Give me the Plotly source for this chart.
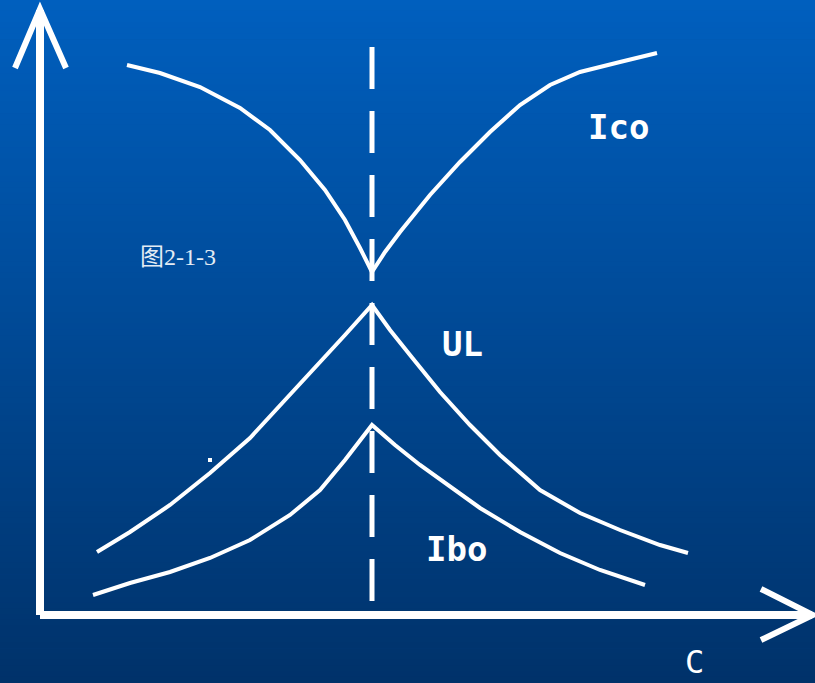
import plotly.graph_objects as go

# ---------------- data (C on x, current / voltage on y; arbitrary units) ----------------
C0 = 332  # resonance capacitance (dashed line)

ico_c = [87, 120, 160, 200, 230, 260, 285, 305, 320, 332, 345, 360, 390, 420, 450, 480, 510, 540, 580, 617]
ico_v = [550, 542, 528, 507, 485, 455, 425, 395, 367, 343, 363, 383, 420, 453, 483, 510, 530, 543, 553, 562]

ul_c = [57, 90, 130, 170, 210, 250, 280, 305, 332, 350, 370, 400, 430, 460, 500, 540, 580, 620, 648]
ul_v = [63, 83, 110, 142, 177, 220, 253, 280, 310, 285, 260, 223, 190, 160, 125, 102, 85, 70, 62]

ibo_c = [53, 90, 130, 170, 210, 250, 280, 305, 332, 355, 380, 410, 440, 480, 520, 560, 605]
ibo_v = [20, 32, 43, 57, 75, 100, 125, 155, 190, 170, 150, 128, 107, 83, 62, 45, 30]

curve_labels = ["Ico", "UL", "Ibo"]
label_c = [578, 422, 416]
label_v = [488, 271, 66]
axis_label = "C"
figure_caption = "图2-1-3"

X_RANGE = [-40, 775]
Y_RANGE = [-68, 615]
Y_TOP = 605
X_END = 772

WHITE = "#ffffff"
fig = go.Figure()

# background vertical gradient built from thin stripes
top = (0, 95, 190)
bot = (0, 50, 106)
n = 120
for i in range(n):
    t = i / (n - 1)
    col = tuple(round(top[k] + (bot[k] - top[k]) * t) for k in range(3))
    fig.add_shape(type="rect", xref="paper", yref="paper",
                  x0=0, x1=1, y0=1 - (i + 1) / n, y1=1 - i / n + 0.001,
                  line_width=0, fillcolor="rgb(%d,%d,%d)" % col, layer="below")

# axes with arrow heads
fig.add_shape(type="line", x0=0, y0=0, x1=0, y1=Y_TOP, line=dict(color=WHITE, width=8))
fig.add_shape(type="line", x0=0, y0=0, x1=X_END, y1=0, line=dict(color=WHITE, width=8))
fig.add_shape(type="path", path="M -25 547 L 0 606 L 26 547", line=dict(color=WHITE, width=6))
fig.add_shape(type="path", path="M 721 26 L 773 0 L 721 -25", line=dict(color=WHITE, width=6))

# dashed resonance line
fig.add_trace(go.Scatter(x=[C0, C0], y=[568, 0], mode="lines",
                         line=dict(color=WHITE, width=5, dash="42px,22px"),
                         hoverinfo="skip", showlegend=False))

for xs, ys in [(ico_c, ico_v), (ul_c, ul_v), (ibo_c, ibo_v)]:
    fig.add_trace(go.Scatter(x=xs, y=ys, mode="lines",
                             line=dict(color=WHITE, width=4, shape="linear"),
                             showlegend=False))

# stray dot in original
fig.add_trace(go.Scatter(x=[170], y=[155], mode="markers",
                         marker=dict(color=WHITE, size=4, symbol="square"),
                         showlegend=False, hoverinfo="skip"))

for lab, cx, cy in zip(curve_labels, label_c, label_v):
    fig.add_annotation(x=cx, y=cy, text="<b>%s</b>" % lab, showarrow=False,
                       font=dict(family="DejaVu Sans Mono", size=34, color=WHITE))

fig.add_annotation(x=654, y=-47, text=axis_label, showarrow=False,
                   font=dict(family="DejaVu Sans Mono", size=32, color=WHITE))
fig.add_annotation(x=138, y=358, text=figure_caption, showarrow=False,
                   font=dict(family="Liberation Serif, Noto Sans CJK SC", size=24, color="#e4ecf4"))

fig.update_xaxes(range=X_RANGE, visible=False, fixedrange=True)
fig.update_yaxes(range=Y_RANGE, visible=False, fixedrange=True)
fig.update_layout(width=815, height=683, margin=dict(l=0, r=0, t=0, b=0),
                  paper_bgcolor="#004a98", plot_bgcolor="rgba(0,0,0,0)",
                  showlegend=False)

fig.write_html("out.html", config={"displayModeBar": False},
               post_script="document.body.style.margin='0';document.body.style.overflow='hidden';")
